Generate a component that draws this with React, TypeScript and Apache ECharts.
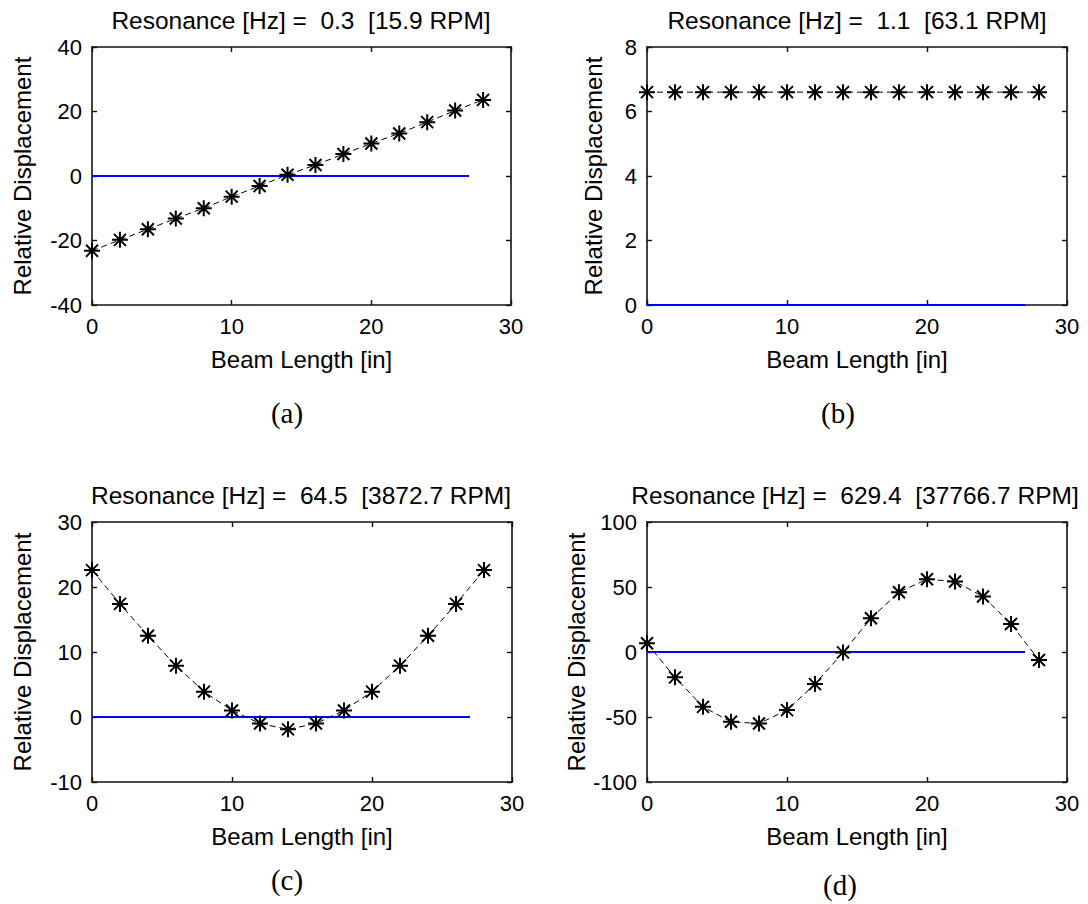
import React, { useEffect, useRef } from "react";
import * as echarts from "echarts";

const beamX = [0, 2, 4, 6, 8, 10, 12, 14, 16, 18, 20, 22, 24, 26, 28];
const dispA = [-23.2, -19.8, -16.5, -13.2, -10.0, -6.4, -3.1, 0.4, 3.4, 6.8, 10.1, 13.2, 16.7, 20.3, 23.6];
const dispB = [6.6, 6.6, 6.6, 6.6, 6.6, 6.6, 6.6, 6.6, 6.6, 6.6, 6.6, 6.6, 6.6, 6.6, 6.6];
const dispC = [22.6, 17.4, 12.5, 7.9, 3.9, 1.0, -1.0, -1.9, -1.0, 1.0, 3.9, 7.9, 12.5, 17.4, 22.6];
const dispD = [6.7, -19.5, -42.2, -53.7, -55.0, -44.7, -24.7, -0.3, 26.0, 46.0, 56.0, 54.2, 42.7, 21.6, -6.2];
const zeroX = [0, 27];
const zeroY = [0, 0];

const titles = [
  "Resonance [Hz] =  0.3  [15.9 RPM]",
  "Resonance [Hz] =  1.1  [63.1 RPM]",
  "Resonance [Hz] =  64.5  [3872.7 RPM]",
  "Resonance [Hz] =  629.4  [37766.7 RPM]",
];
const captions = ["(a)", "(b)", "(c)", "(d)"];
const yMins = [-40, 0, -10, -100];
const yMaxs = [40, 8, 30, 100];
const ySteps = [20, 2, 10, 50];
const xTickMin = 0;
const xTickMax = 30;
const xTickStep = 10;
const allDisp = [dispA, dispB, dispC, dispD];

const grids = [
  { left: 92, top: 47, width: 419, height: 258 },
  { left: 647, top: 47, width: 420, height: 258 },
  { left: 92, top: 522, width: 420, height: 260 },
  { left: 647, top: 522, width: 420, height: 260 },
];
const yNameGaps = [58, 42, 58, 59];
const titlePos = [
  [301, 20],
  [857, 20],
  [301, 495],
  [855, 495],
];
const captionPos = [
  [287, 413],
  [838, 413],
  [287, 880],
  [840, 885],
];

const FONT = "Liberation Sans, Arial, sans-serif";
const STAR = "path://M0,-10L0,10M-10,0L10,0M-7.5,-7.5L7.5,7.5M-7.5,7.5L7.5,-7.5";

export default function App() {
  const ref = useRef<HTMLDivElement>(null);
  useEffect(() => {
    if (!ref.current) return;
    const chart = echarts.init(ref.current, null, { renderer: "svg" });
    const xAxis: any[] = [];
    const yAxis: any[] = [];
    const series: any[] = [];
    const graphic: any[] = [];
    const axisLine = { show: true, onZero: false, lineStyle: { color: "#111", width: 1.6 } };
    const tick = { show: true, inside: true, length: 5, lineStyle: { color: "#111", width: 1.4 } };
    for (let i = 0; i < 4; i++) {
      xAxis.push({
        gridIndex: i,
        type: "value",
        position: "bottom",
        min: xTickMin,
        max: xTickMax,
        interval: xTickStep,
        axisLine,
        axisTick: tick,
        splitLine: { show: false },
        axisLabel: { color: "#000", fontSize: 22, fontFamily: FONT, margin: 10 },
        name: "Beam Length [in]",
        nameLocation: "middle",
        nameGap: 42,
        nameTextStyle: { color: "#000", fontSize: 24, fontFamily: FONT },
      });
      xAxis.push({
        gridIndex: i,
        type: "value",
        position: "top",
        min: xTickMin,
        max: xTickMax,
        interval: xTickStep,
        axisLine,
        axisTick: tick,
        splitLine: { show: false },
        axisLabel: { show: false },
      });
      yAxis.push({
        gridIndex: i,
        type: "value",
        position: "left",
        min: yMins[i],
        max: yMaxs[i],
        interval: ySteps[i],
        axisLine,
        axisTick: tick,
        splitLine: { show: false },
        axisLabel: { color: "#000", fontSize: 22, fontFamily: FONT, margin: 10 },
        name: "Relative Displacement",
        nameLocation: "middle",
        nameGap: yNameGaps[i],
        nameTextStyle: { color: "#000", fontSize: 24, fontFamily: FONT },
      });
      yAxis.push({
        gridIndex: i,
        type: "value",
        position: "right",
        min: yMins[i],
        max: yMaxs[i],
        interval: ySteps[i],
        axisLine,
        axisTick: tick,
        splitLine: { show: false },
        axisLabel: { show: false },
      });
      series.push({
        type: "line",
        xAxisIndex: 2 * i,
        yAxisIndex: 2 * i,
        data: zeroX.map((x, k) => [x, zeroY[k]]),
        showSymbol: false,
        symbol: "none",
        lineStyle: { color: "#0000ff", width: 1.8 },
        z: 3,
      });
      series.push({
        type: "line",
        xAxisIndex: 2 * i,
        yAxisIndex: 2 * i,
        data: beamX.map((x, k) => [x, allDisp[i][k]]),
        symbol: STAR,
        symbolSize: 16,
        showAllSymbol: true,
        itemStyle: { color: "rgba(0,0,0,0)", borderColor: "#000", borderWidth: 2 },
        lineStyle: { color: "#000", width: 1, type: [6, 4] },
        z: 4,
      });
      graphic.push({
        type: "text",
        x: titlePos[i][0],
        y: titlePos[i][1],
        style: {
          text: titles[i],
          fill: "#000",
          font: `24.5px ${FONT}`,
          align: "center",
          verticalAlign: "middle",
        },
      });
      graphic.push({
        type: "text",
        x: captionPos[i][0],
        y: captionPos[i][1],
        style: {
          text: captions[i],
          fill: "#000",
          font: `29px "Liberation Serif", "Times New Roman", serif`,
          align: "center",
          verticalAlign: "middle",
        },
      });
    }
    chart.setOption({
      animation: false,
      backgroundColor: "#fff",
      grid: grids.map((g) => ({ ...g, show: false })),
      xAxis,
      yAxis,
      series,
      graphic,
    });
    return () => chart.dispose();
  }, []);
  return (
    <div
      ref={ref}
      style={{ position: "absolute", left: 0, top: 0, width: 1088, height: 904 }}
    />
  );
}
